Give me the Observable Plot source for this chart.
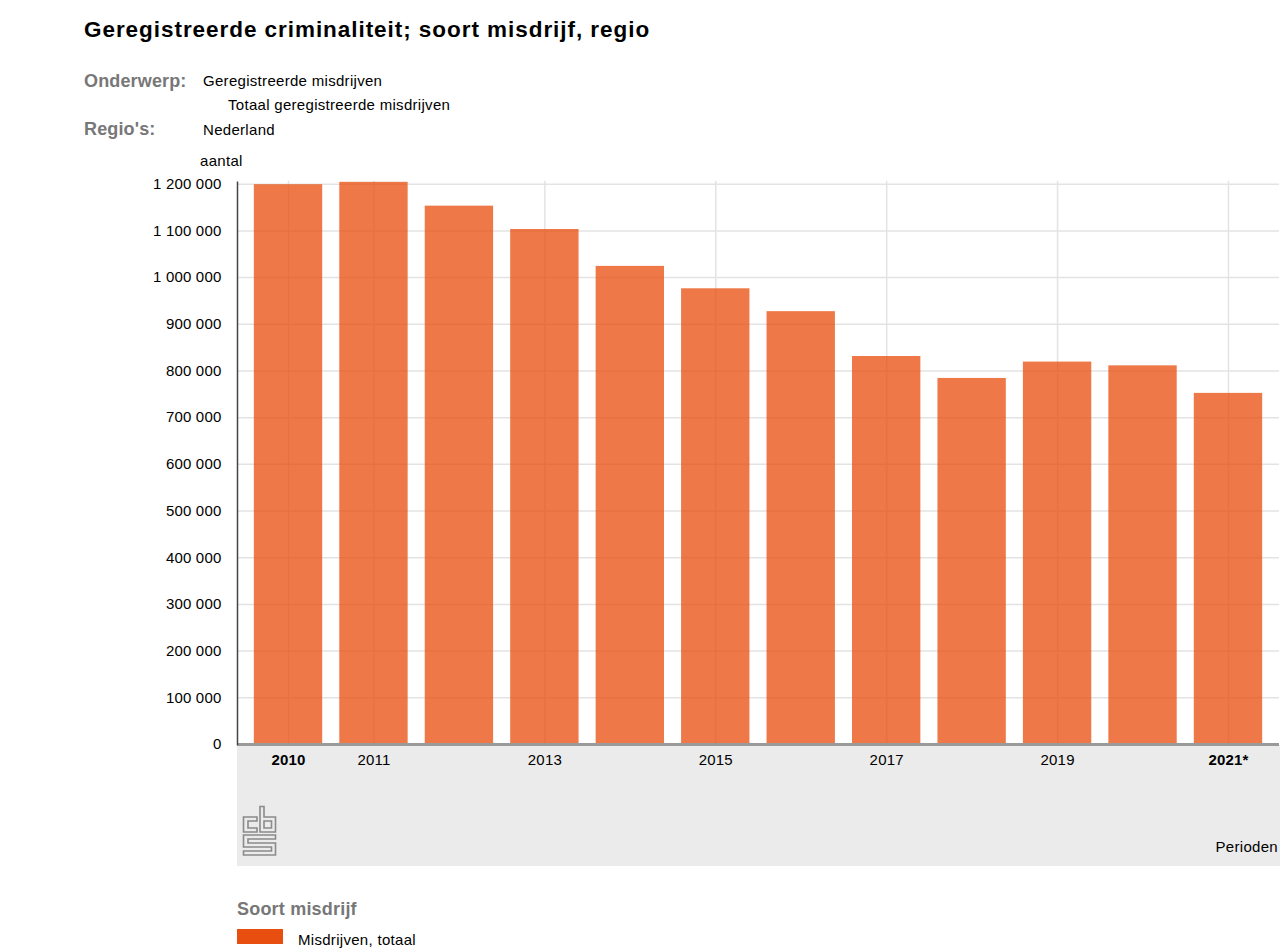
<!DOCTYPE html>
<html>
<head>
<meta charset="utf-8">
<script src="https://cdn.jsdelivr.net/npm/d3@7"></script>
<script src="https://cdn.jsdelivr.net/npm/@observablehq/plot@0.6"></script>
<style>
  body { margin: 0; background: #fff; font-family: "Liberation Sans", Arial, Helvetica, sans-serif; }
  .t { position: absolute; line-height: 1; white-space: nowrap; color: #000; }
  .s { font-size: 15px; letter-spacing: 0.3px; }
  .g { color: #777; font-weight: bold; }
  #band { position: absolute; left: 237px; top: 745px; width: 1043px; height: 121px; background: #ebebeb; }
  #chart { position: absolute; left: 0; top: 170px; }
  #logo { position: absolute; left: 242px; top: 805px; }
</style>
</head>
<body>
<div class="t" style="left:84px;top:19px;font-size:22.5px;letter-spacing:0.95px;font-weight:bold;">Geregistreerde criminaliteit; soort misdrijf, regio</div>
<div class="t g" style="left:84px;top:72px;font-size:18px;letter-spacing:0.15px;">Onderwerp:</div>
<div class="t s" style="left:203px;top:73px;">Geregistreerde misdrijven</div>
<div class="t s" style="left:228px;top:97px;">Totaal geregistreerde misdrijven</div>
<div class="t g" style="left:84px;top:120px;font-size:18px;letter-spacing:0.15px;">Regio's:</div>
<div class="t s" style="left:203px;top:122px;">Nederland</div>
<div class="t s" style="left:200px;top:153px;">aantal</div>

<div id="band"></div>
<svg id="logo" width="36" height="52" viewBox="0 0 36 52" fill="none" stroke="#8a8a8a" stroke-width="1.6">
  <path d="M1.5 12 H15 V16 H6 V23 H15 V27 H1.5 Z"/>
  <path d="M18 1.5 H22 V12 H33.5 V27 H18 Z M22 16 V23 H29.5 V16 Z"/>
  <path d="M1.5 30 H33.5 V34 H6 V38 H33.5 V50 H1.5 V46 H29.5 V42 H1.5 Z"/>
</svg>

<div id="chart"></div>
<div class="t s" style="right:2px;top:839px;">Perioden</div>

<div class="t g" style="left:237px;top:900px;font-size:18px;letter-spacing:0.2px;">Soort misdrijf</div>
<div style="position:absolute;left:237px;top:929px;width:46px;height:15px;background:#e84e0f;"></div>
<div class="t s" style="left:298px;top:932px;">Misdrijven, totaal</div>

<script>
const periods = ["2010","2011","2012","2013","2014","2015","2016","2017","2018","2019","2020","2021*"];
const values  = [1199000, 1204000, 1153000, 1103000, 1024000, 976000, 927000, 831000, 784000, 819000, 811000, 752000];
const yTicks  = [0,100000,200000,300000,400000,500000,600000,700000,800000,900000,1000000,1100000,1200000];
const xTicksNormal = ["2011","2013","2015","2017","2019"];
const xTicksBold   = ["2010","2021*"];
const xTicksAll    = ["2010","2011","2013","2015","2017","2019","2021*"];
const seriesName = "Misdrijven, totaal";

const data = periods.map((p, i) => ({period: p, value: values[i], serie: seriesName}));
const fmt = v => d3.format(",")(v).replace(/,/g, " ");

const chart = Plot.plot({
  width: 1280,
  height: 700,
  marginTop: 13.7,
  marginBottom: 126,
  marginLeft: 237,
  marginRight: 1,
  style: {background: "transparent", fontFamily: "'Liberation Sans', Arial, Helvetica, sans-serif", fontSize: "15px", color: "#000"},
  x: {type: "band", domain: periods, paddingInner: 0.2, paddingOuter: 0.197, round: false, label: null},
  y: {domain: [0, 1200000], label: null},
  marks: [
    Plot.gridY({ticks: yTicks, stroke: "#e3e3e3", strokeOpacity: 1, strokeWidth: 1.5}),
    Plot.gridX({ticks: xTicksAll, stroke: "#e3e3e3", strokeOpacity: 1, strokeWidth: 1.5, insetTop: -3}),
    Plot.barY(data, {x: "period", y: "value", fill: "#e84e0f", fillOpacity: 0.76}),
    Plot.ruleY([0], {stroke: "#9a9a9a", strokeWidth: 3}),
    Plot.axisY({ticks: yTicks, tickFormat: fmt, tickSize: 0, tickPadding: 16, fontSize: 15, label: null}),
    Plot.axisX({ticks: xTicksNormal, tickSize: 0, tickPadding: 10, fontSize: 15, label: null}),
    Plot.axisX({ticks: xTicksBold, tickSize: 0, tickPadding: 10, fontSize: 15, fontWeight: "bold", label: null}),
    Plot.frame({anchor: "left", stroke: "#444", strokeWidth: 1.5, insetTop: -2})
  ]
});
chart.querySelectorAll("text").forEach(t => t.style.letterSpacing = "0.2px");
document.getElementById("chart").appendChild(chart);
</script>
</body>
</html>
